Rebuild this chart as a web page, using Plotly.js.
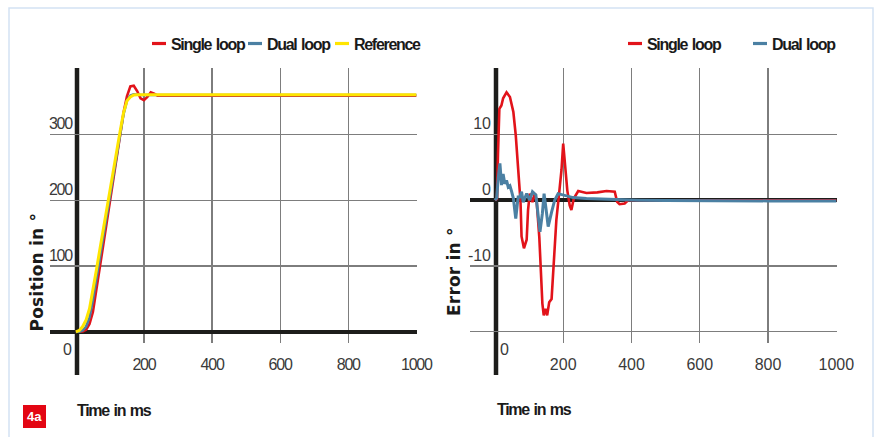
<!DOCTYPE html>
<html><head><meta charset="utf-8">
<script src="https://cdn.plot.ly/plotly-3.0.1.min.js"></script>
<style>
html,body{margin:0;padding:0;background:#fff}
#chart{width:877px;height:437px}
.xtick text, .ytick text{letter-spacing:-1.2px}
.annotation-text{letter-spacing:-1.3px; word-spacing:1.5px}
</style>
</head><body><div id="chart"></div>
<script>
// ---------- data ----------
const timePos      = [0, 10, 20, 30, 40, 50, 60, 70, 80, 90, 100, 110, 120, 130, 140, 150, 160, 170, 180, 190, 200, 210, 220, 230, 240, 260, 300, 400, 500, 600, 700, 800, 900, 1000];
const singlePos    = [0, 0, 0.5, 3, 12, 30, 62, 96, 130, 164, 198, 232, 266, 300, 333, 358, 373, 374, 366, 355, 352, 357, 364, 362, 359, 359, 359, 359, 359, 359, 359, 359, 359, 359];
const dualPos      = [0, 0, 2, 8, 22, 48, 80, 112, 145, 177, 209, 240, 271, 302, 331, 351, 359, 361, 360, 360, 360, 360, 360, 360, 360, 360, 360, 360, 360, 360, 360, 360, 360, 360];
const referencePos = [0, 2, 8, 18, 35, 62, 93, 124, 155, 185, 215, 245, 275, 305, 333, 351, 357, 360, 360.5, 360.5, 360.5, 360.5, 360.5, 360.5, 360.5, 360.5, 360.5, 360.5, 360.5, 360.5, 360.5, 360.5, 360.5, 360.5];

const timeErrSingle = [0, 6, 9, 13, 19, 24, 34, 44, 54, 61, 68, 75, 78, 85, 93, 97, 102, 110, 117, 122, 130, 134, 139, 143, 148, 153, 159, 166, 171, 180, 188, 195, 200, 206, 212, 219, 224, 231, 244, 268, 300, 327, 351, 358, 365, 380, 390, 420, 500, 600, 700, 800, 900, 1000];
const errSingle     = [0, 0.2, 7, 13.9, 14.4, 15.5, 16.4, 15.7, 13.4, 9.9, 4.8, -0.3, -5.5, -7.3, -6, -1.5, 1, -0.3, 1, 0, -5.6, -10.6, -15.7, -17.5, -16.5, -17.5, -15.5, -15, -10.6, -3, 1, 4.6, 8.6, 4.8, 1.5, -0.8, -1.5, 0.25, 1.4, 1.1, 1.2, 1.4, 1.3, -0.25, -0.6, -0.5, 0, 0, 0, 0, 0, 0, 0, 0];
const timeErrDual   = [0, 5, 10, 14.6, 19.5, 24, 29, 34, 39, 44, 49, 54, 61, 68, 73, 78, 83, 93, 102, 110, 120, 127, 132, 139, 144, 149, 156, 166, 175, 185, 200, 229, 268, 320, 366, 420, 500, 600, 700, 800, 900, 1000];
const errDual       = [0, 0.3, 3.5, 5.6, 2.3, 4, 2.5, 3, 2, 2.2, 1.3, 0.3, -2.8, 0.5, 0.5, 1.3, -0.3, 1, 0, 1.3, 0.8, -2.5, -4.8, -2, 1, -1, -4, -1.8, 0, 1, 0.8, 0.4, 0.25, 0.15, 0.1, 0, -0.05, -0.1, -0.1, -0.1, -0.1, -0.1];

const timeTicks      = [200, 400, 600, 800, 1000];
const timeTickLabels = ['200', '400', '600', '800', '1000'];
const posTicks       = [0, 100, 200, 300, 400];
const posTickLabels  = ['', '100', '200', '300', ''];
const errTicks       = [-20, -10, 0, 10, 20];
const errTickLabels  = ['', '-10', '0', '10', ''];
const originLabel    = '0';

const nameSingle = 'Single loop', nameDual = 'Dual loop', nameRef = 'Reference';
const colSingle = '#e2131a', colDual = '#4b80a3', colRef = '#ffe500';

// ---------- layout helpers ----------
const W = 877, H = 437;
const px = x => x / W;
const py = y => 1 - y / H;
const sans = '"Liberation Sans", Arial, Helvetica, sans-serif';
const wide = '"DejaVu Sans", "Liberation Sans", sans-serif';
const black = '#1d1d1b';
const grid = '#7d7d7d';

const L = {dom: [px(50), px(417)], range: [-76, 1002], axisPx: 77};
const R = {dom: [px(470), px(837)], range: [-73, 1002], axisPx: 496};
const yDom = [py(343), py(68)];
const posRange = [-17, 401];
const errRange = [-21.7, 20.1];

const tickFont = {family: sans, size: 16, color: '#3a3a3a'};

const traces = [
  {x: timePos, y: singlePos, name: nameSingle, type: 'scatter', mode: 'lines', line: {color: colSingle, width: 2.6}, xaxis: 'x', yaxis: 'y'},
  {x: timePos, y: dualPos, name: nameDual, type: 'scatter', mode: 'lines', line: {color: colDual, width: 2.6}, xaxis: 'x', yaxis: 'y'},
  {x: timePos, y: referencePos, name: nameRef, type: 'scatter', mode: 'lines', line: {color: colRef, width: 3}, xaxis: 'x', yaxis: 'y'},
  {x: timeErrSingle, y: errSingle, name: nameSingle, type: 'scatter', mode: 'lines', line: {color: colSingle, width: 2.6}, xaxis: 'x2', yaxis: 'y2'},
  {x: timeErrDual, y: errDual, name: nameDual, type: 'scatter', mode: 'lines', line: {color: colDual, width: 3}, xaxis: 'x2', yaxis: 'y2'}
];

function xAx(a, anchor) {
  return {domain: a.dom, range: a.range, anchor: anchor, tickmode: 'array', tickvals: timeTicks, ticktext: timeTickLabels,
    showgrid: true, gridcolor: grid, gridwidth: 1.2, zeroline: false, showline: false, ticks: '',
    tickfont: tickFont, ticklabelstandoff: 10, automargin: false, fixedrange: true};
}
function yAx(a, range, vals, text) {
  return {domain: yDom, range: range, anchor: 'free', position: px(a.axisPx), tickmode: 'array', tickvals: vals, ticktext: text,
    showgrid: true, gridcolor: grid, gridwidth: 1.2, zeroline: true, zerolinecolor: black, zerolinewidth: 4.5,
    showline: false, ticks: '', tickfont: tickFont, ticklabelshift: -11, ticklabelstandoff: 5, automargin: false, fixedrange: true};
}

const legendLeft = [
  {name: nameSingle, color: colSingle, x: 152},
  {name: nameDual, color: colDual, x: 248},
  {name: nameRef, color: colRef, x: 335}
];
const legendRight = [
  {name: nameSingle, color: colSingle, x: 628},
  {name: nameDual, color: colDual, x: 753}
];

const shapes = [
  {type: 'rect', xref: 'paper', yref: 'paper', x0: px(9), x1: px(873), y0: py(460), y1: py(8), line: {color: '#d3e2f4', width: 1.5}, layer: 'below'},
  {type: 'line', xref: 'paper', yref: 'paper', x0: px(L.axisPx), x1: px(L.axisPx), y0: py(375), y1: py(68), line: {color: black, width: 4.5}, layer: 'below'},
  {type: 'line', xref: 'paper', yref: 'paper', x0: px(R.axisPx), x1: px(R.axisPx), y0: py(375), y1: py(68), line: {color: black, width: 4.5}, layer: 'below'},
  {type: 'rect', xref: 'paper', yref: 'paper', x0: px(23), x1: px(46), y0: py(428), y1: py(405), fillcolor: '#e30613', line: {width: 0}}
];
const boldFont = {family: sans, size: 16, weight: 'bold', color: '#1a1a1a'};
const annotations = [];
function note(x, y, text, font, extra) {
  annotations.push(Object.assign({xref: 'paper', yref: 'paper', x: px(x), y: py(y), xanchor: 'center', yanchor: 'middle', text: text, showarrow: false, font: font, borderpad: 0}, extra || {}));
}
[legendLeft, legendRight].forEach(list => list.forEach(it => {
  shapes.push({type: 'line', xref: 'paper', yref: 'paper', x0: px(it.x), x1: px(it.x + 14), y0: py(43.5), y1: py(43.5), line: {color: it.color, width: 3.2}});
  note(it.x + 18, 44.5, it.name, boldFont, {xanchor: 'left'});
}));
const titleFont = {family: wide, size: 17, weight: 'bold', color: '#1a1a1a'};
note(36, 272.5, '<span style="letter-spacing:0.2px;word-spacing:0px">Position in °</span>', titleFont, {textangle: -90});
note(454, 272, '<span style="letter-spacing:0.2px;word-spacing:0px">Error in °</span>', titleFont, {textangle: -90});
note(76, 410, 'Time in ms', boldFont, {xanchor: 'left'});
note(496, 409, 'Time in ms', boldFont, {xanchor: 'left'});
note(67, 349, originLabel, tickFont);
note(504, 349, originLabel, tickFont);
note(34.5, 416.5, '<span style="letter-spacing:0px">4a</span>', {family: sans, size: 13, weight: 'bold', color: '#ffffff'});

const layout = {
  width: W, height: H, margin: {l: 0, r: 0, t: 0, b: 0, pad: 0},
  paper_bgcolor: '#ffffff', plot_bgcolor: '#ffffff', showlegend: false,
  xaxis: xAx(L, 'y'), yaxis: yAx(L, posRange, posTicks, posTickLabels),
  xaxis2: xAx(R, 'y2'), yaxis2: yAx(R, errRange, errTicks, errTickLabels),
  shapes: shapes, annotations: annotations
};

Plotly.newPlot('chart', traces, layout, {displayModeBar: false, staticPlot: true});
</script>
</body></html>
